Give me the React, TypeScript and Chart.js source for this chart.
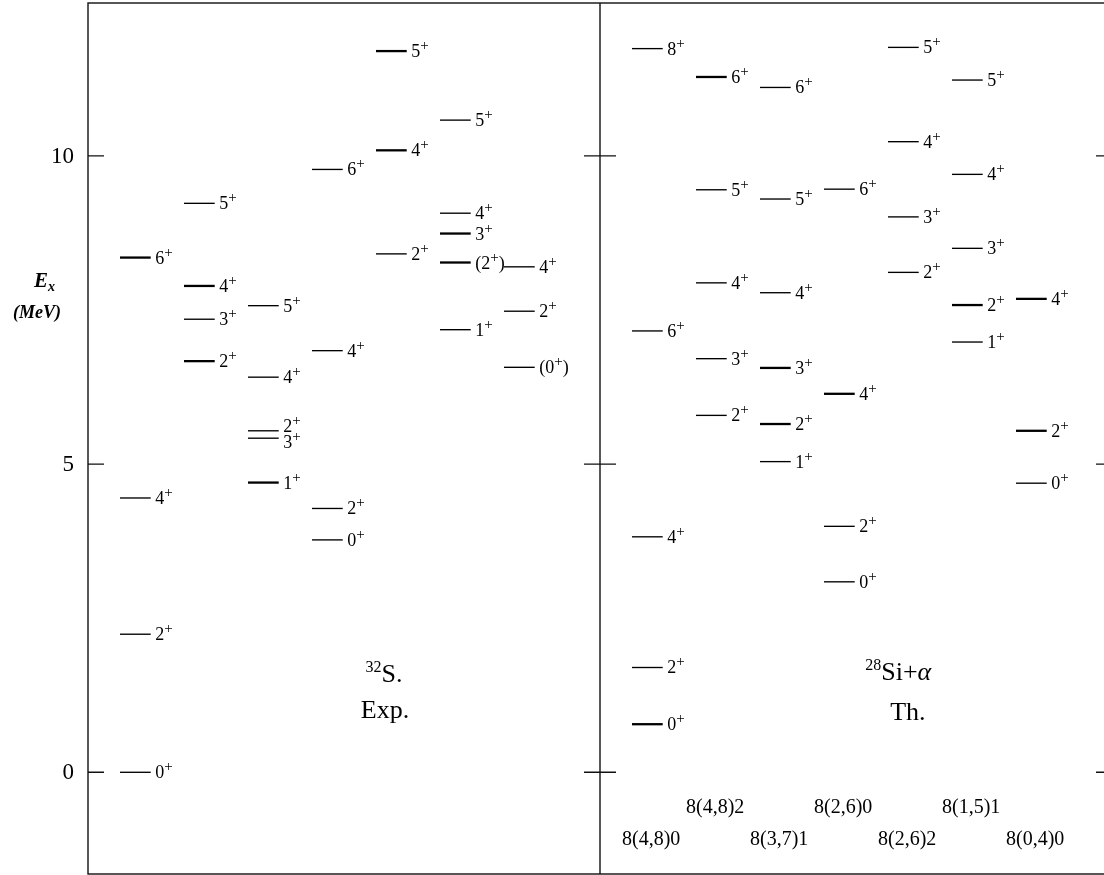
import React, { useEffect, useRef } from 'react';
import { Chart, registerables } from 'chart.js';

Chart.register(...registerables);

// ---------- data ----------
const yTicks = [0, 5, 10];

// Experimental 32S levels (MeV), one list per column
const expEnergies: number[][] = [
  [0, 2.24, 4.45, 8.35],
  [6.67, 7.35, 7.89, 9.23],
  [4.7, 5.42, 5.54, 6.41, 7.57],
  [3.77, 4.28, 6.84, 9.78],
  [8.41, 10.09, 11.7],
  [7.18, 8.27, 8.74, 9.07, 10.58],
  [6.57, 7.48, 8.2],
];
const expSpins: string[][] = [
  ['0+', '2+', '4+', '6+'],
  ['2+', '3+', '4+', '5+'],
  ['1+', '3+', '2+', '4+', '5+'],
  ['0+', '2+', '4+', '6+'],
  ['2+', '4+', '5+'],
  ['1+', '(2+)', '3+', '4+', '5+'],
  ['(0+)', '2+', '4+'],
];
const expStrong: boolean[][] = [
  [false, false, false, true],
  [true, false, true, false],
  [true, false, false, false, false],
  [false, false, false, false],
  [false, true, true],
  [false, true, true, false, false],
  [false, false, false],
];

// Theoretical 28Si+alpha levels (MeV), one list per SU(3) band
const thEnergies: number[][] = [
  [0.78, 1.7, 3.82, 7.16, 11.74],
  [5.79, 6.71, 7.94, 9.45, 11.28],
  [5.04, 5.65, 6.56, 7.78, 9.3, 11.11],
  [3.09, 3.99, 6.14, 9.46],
  [8.11, 9.01, 10.23, 11.76],
  [6.98, 7.58, 8.5, 9.7, 11.23],
  [4.69, 5.54, 7.68],
];
const thSpins: string[][] = [
  ['0+', '2+', '4+', '6+', '8+'],
  ['2+', '3+', '4+', '5+', '6+'],
  ['1+', '2+', '3+', '4+', '5+', '6+'],
  ['0+', '2+', '4+', '6+'],
  ['2+', '3+', '4+', '5+'],
  ['1+', '2+', '3+', '4+', '5+'],
  ['0+', '2+', '4+'],
];
const thStrong: boolean[][] = [
  [true, false, false, false, false],
  [false, false, false, false, true],
  [false, true, true, false, false, false],
  [false, false, true, false],
  [false, false, false, false],
  [false, true, false, false, false],
  [false, true, true],
];
const thBands = ['8(4,8)0', '8(4,8)2', '8(3,7)1', '8(2,6)0', '8(2,6)2', '8(1,5)1', '8(0,4)0'];

// ---------- layout constants (style) ----------
const SERIF = "'Liberation Serif', 'DejaVu Serif', serif";
const X_MIN = -0.5;
const X_MAX = 15.5;
const DIVIDER = 7.5;
const TH_OFFSET = 8;
const LEVEL_W = 0.48;
const LABEL_DX = 0.55;
const Y_MIN = -1.65;
const Y_MAX = 12.48;

type Col = { x: number; es: number[]; js: string[] };

function columns(): Col[] {
  const cols: Col[] = [];
  expEnergies.forEach((es, i) => cols.push({ x: i, es, js: expSpins[i] }));
  thEnergies.forEach((es, i) => cols.push({ x: TH_OFFSET + i, es, js: thSpins[i] }));
  return cols;
}

function drawSpin(ctx: CanvasRenderingContext2D, text: string, x: number, y: number) {
  let cx = x;
  for (const ch of text) {
    if (ch === '+') {
      ctx.font = `15px ${SERIF}`;
      ctx.fillText('+', cx, y - 1);
      cx += ctx.measureText('+').width;
    } else {
      ctx.font = `18px ${SERIF}`;
      ctx.fillText(ch, cx, y + 6);
      cx += ctx.measureText(ch).width;
    }
  }
}

function spreadLabels(ys: number[], minGap: number): number[] {
  const idx = ys.map((y, i) => i).sort((a, b) => ys[a] - ys[b]);
  const out = ys.slice();
  for (let it = 0; it < 20; it++) {
    for (let k = 1; k < idx.length; k++) {
      const a = idx[k - 1];
      const b = idx[k];
      const gap = out[b] - out[a];
      if (gap < minGap) {
        const d = (minGap - gap) / 2;
        out[a] -= d;
        out[b] += d;
      }
    }
  }
  return out;
}

const decorPlugin = {
  id: 'levelDecor',
  afterDatasetsDraw(chart: any) {
    const { ctx, chartArea: a, scales } = chart;
    const xs = scales.x;
    const ys = scales.y;
    ctx.save();
    ctx.strokeStyle = '#111';
    ctx.fillStyle = '#000';
    ctx.lineWidth = 1.4;
    // frame
    ctx.strokeRect(a.left, a.top, a.right - a.left, a.bottom - a.top);
    const xd = xs.getPixelForValue(DIVIDER);
    ctx.beginPath();
    ctx.moveTo(xd, a.top);
    ctx.lineTo(xd, a.bottom);
    // ticks
    for (const v of yTicks) {
      const y = ys.getPixelForValue(v);
      ctx.moveTo(a.left, y);
      ctx.lineTo(a.left + 16, y);
      ctx.moveTo(xd - 16, y);
      ctx.lineTo(xd + 16, y);
      ctx.moveTo(a.right - 16, y);
      ctx.lineTo(a.right, y);
    }
    ctx.stroke();

    // tick labels
    ctx.font = `23px ${SERIF}`;
    ctx.textAlign = 'right';
    ctx.textBaseline = 'middle';
    for (const v of yTicks) {
      ctx.fillText(String(v), a.left - 14, ys.getPixelForValue(v) + 1);
    }

    // spin labels
    ctx.textAlign = 'left';
    ctx.textBaseline = 'alphabetic';
    for (const c of columns()) {
      const py = c.es.map((e) => ys.getPixelForValue(e));
      const ly = spreadLabels(py, 16);
      const lx = xs.getPixelForValue(c.x + LABEL_DX);
      c.js.forEach((j, k) => drawSpin(ctx, j, lx, ly[k]));
    }

    // band labels under the theory columns
    ctx.font = `20px ${SERIF}`;
    ctx.textAlign = 'center';
    thBands.forEach((b, i) => {
      const x = xs.getPixelForValue(TH_OFFSET + i + 0.3);
      const y = ys.getPixelForValue(i % 2 === 0 ? -1.18 : -0.66);
      ctx.fillText(b, x, y);
    });

    // panel titles
    const drawSupTitle = (sup: string, main: string, cx: number, by: number, italicTail?: string) => {
      ctx.textAlign = 'left';
      ctx.font = `16px ${SERIF}`;
      const ws = ctx.measureText(sup).width;
      ctx.font = `26px ${SERIF}`;
      const wm = ctx.measureText(main).width;
      let wt = 0;
      if (italicTail) {
        ctx.font = `italic 26px ${SERIF}`;
        wt = ctx.measureText(italicTail).width;
      }
      let x = cx - (ws + wm + wt) / 2;
      ctx.font = `16px ${SERIF}`;
      ctx.fillText(sup, x, by - 10);
      x += ws;
      ctx.font = `26px ${SERIF}`;
      ctx.fillText(main, x, by);
      x += wm;
      if (italicTail) {
        ctx.font = `italic 26px ${SERIF}`;
        ctx.fillText(italicTail, x, by);
      }
    };
    drawSupTitle('32', 'S.', xs.getPixelForValue(4.125), ys.getPixelForValue(1.47));
    drawSupTitle('28', 'Si+', xs.getPixelForValue(12.16), ys.getPixelForValue(1.5), 'α');
    ctx.textAlign = 'center';
    ctx.font = `26px ${SERIF}`;
    ctx.fillText('Exp.', xs.getPixelForValue(4.14), ys.getPixelForValue(0.88));
    ctx.fillText('Th.', xs.getPixelForValue(12.31), ys.getPixelForValue(0.85));

    // y-axis title
    ctx.textAlign = 'left';
    ctx.font = `bold italic 21px ${SERIF}`;
    ctx.fillText('E', 34, 287);
    const we = ctx.measureText('E').width;
    ctx.font = `bold italic 14px ${SERIF}`;
    ctx.fillText('x', 34 + we, 291);
    ctx.textAlign = 'center';
    ctx.font = `bold italic 18px ${SERIF}`;
    ctx.fillText('(MeV)', 37, 318);
    ctx.restore();
  },
};

function buildDatasets() {
  const ds: any[] = [];
  const add = (x: number, e: number, strong: boolean) => {
    ds.push({
      data: [
        { x, y: e },
        { x: x + LEVEL_W, y: e },
      ],
      showLine: true,
      borderColor: '#000',
      borderWidth: strong ? 2.3 : 1.35,
      pointRadius: 0,
      fill: false,
    });
  };
  expEnergies.forEach((es, i) => es.forEach((e, k) => add(i, e, expStrong[i][k])));
  thEnergies.forEach((es, i) => es.forEach((e, k) => add(TH_OFFSET + i, e, thStrong[i][k])));
  return ds;
}

export default function App() {
  const ref = useRef<HTMLCanvasElement>(null);
  useEffect(() => {
    if (!ref.current) return;
    const chart = new Chart(ref.current, {
      type: 'scatter',
      data: { datasets: buildDatasets() },
      options: {
        animation: false,
        responsive: false,
        devicePixelRatio: 1,
        layout: { padding: { left: 88, top: 3, right: 8, bottom: 1 } },
        plugins: { legend: { display: false }, tooltip: { enabled: false } },
        scales: {
          x: { type: 'linear', min: X_MIN, max: X_MAX, display: false },
          y: { type: 'linear', min: Y_MIN, max: Y_MAX, display: false },
        },
      },
      plugins: [decorPlugin],
    });
    return () => chart.destroy();
  }, []);
  return (
    <div style={{ position: 'absolute', left: 0, top: 0, width: 1104, height: 875, overflow: 'hidden', background: '#fff' }}>
      <canvas ref={ref} width={1120} height={875} style={{ display: 'block' }} />
    </div>
  );
}
